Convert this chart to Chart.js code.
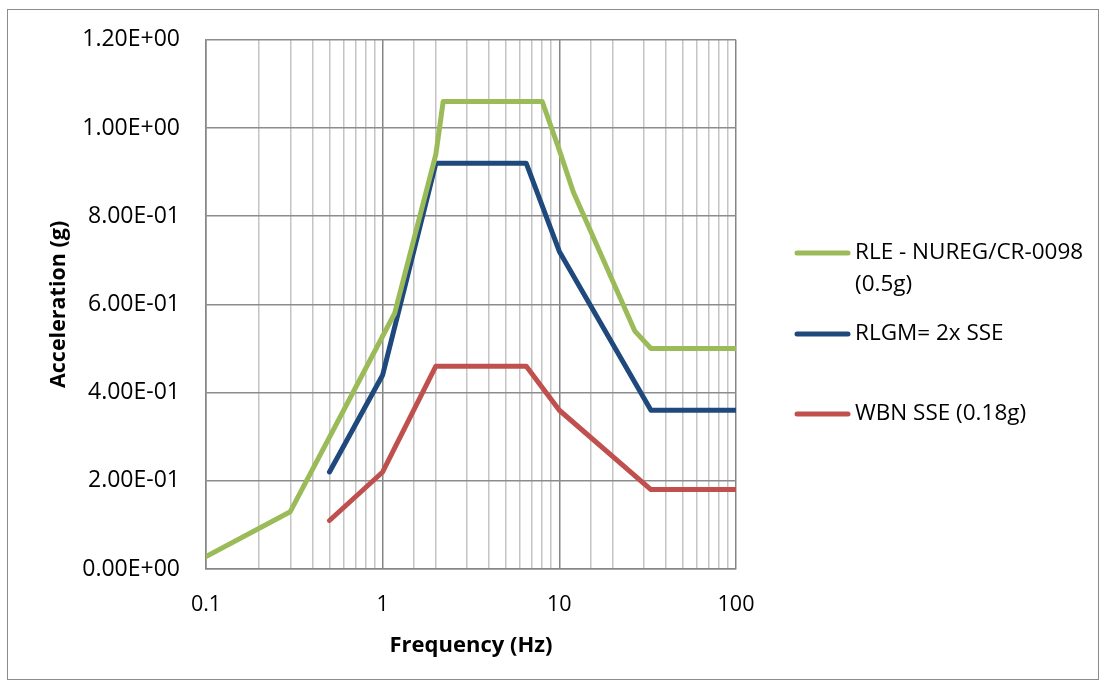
<!DOCTYPE html>
<html>
<head>
<meta charset="utf-8">
<script src="https://cdn.jsdelivr.net/npm/chart.js@4.4.1/dist/chart.umd.min.js"></script>
<style>
  html, body { margin: 0; padding: 0; background: #ffffff; }
  #wrap { position: relative; width: 1107px; height: 688px; }
  #frame { position: absolute; left: 7px; top: 9px; width: 1092px; height: 671px; border: 1px solid #8c8c8c; box-sizing: border-box; pointer-events: none; }
  canvas { position: absolute; left: 0; top: 0; }
</style>
</head>
<body>
<div id="wrap">
  <div id="frame"></div>
  <canvas id="c" width="1107" height="688"></canvas>
</div>
<script>
// ---- Data ----
const rleFreq  = [0.1, 0.3, 1.17, 2.0, 2.2, 8.0, 10.0, 12.0, 26.7, 33.0, 100.0];
const rleAcc   = [0.028, 0.13, 0.58, 0.94, 1.06, 1.06, 0.95, 0.855, 0.54, 0.50, 0.50];

const rlgmFreq = [0.5, 1.0, 2.0, 6.5, 10.0, 33.0, 100.0];
const rlgmAcc  = [0.22, 0.44, 0.92, 0.92, 0.72, 0.36, 0.36];

const sseFreq  = [0.5, 1.0, 2.0, 6.5, 10.0, 33.0, 100.0];
const sseAcc   = [0.11, 0.22, 0.46, 0.46, 0.36, 0.18, 0.18];

const seriesNames = ['RLE - NUREG/CR-0098 (0.5g)', 'RLGM= 2x SSE', 'WBN SSE (0.18g)'];
const seriesLegendLines = [['RLE - NUREG/CR-0098', '(0.5g)'], ['RLGM= 2x SSE'], ['WBN SSE (0.18g)']];
const seriesColors = ['#9BBB59', '#1F497D', '#C0504D'];

const xTickLabels = ['0.1', '1', '10', '100'];
const yTickValues = [0, 0.2, 0.4, 0.6, 0.8, 1.0, 1.2];

const xTitle = 'Frequency (Hz)';
const yTitle = 'Acceleration (g)';

function toPoints(xs, ys) { return xs.map((x, i) => ({ x: x, y: ys[i] })); }

function sci(v) {
  const s = Number(v).toExponential(2).split('e');
  const sign = s[1][0] === '-' ? '-' : '+';
  const exp = s[1].replace(/[+-]/, '').padStart(2, '0');
  return s[0] + 'E' + sign + exp;
}
function isDecade(v) {
  const l = Math.log10(v);
  return Math.abs(l - Math.round(l)) < 1e-9;
}

const FONT = 'Open Sans';

const legendPlugin = {
  id: 'customLegend',
  afterDraw(chart) {
    const ctx = chart.ctx;
    const ys = [253, 334, 414];
    ctx.save();
    ctx.font = '22.5px "' + FONT + '"';
    ctx.textBaseline = 'middle';
    ctx.textAlign = 'left';
    seriesLegendLines.forEach((lines, i) => {
      ctx.strokeStyle = seriesColors[i];
      ctx.lineWidth = 5;
      ctx.lineCap = 'round';
      ctx.beginPath();
      ctx.moveTo(797, ys[i]);
      ctx.lineTo(848, ys[i]);
      ctx.stroke();
      ctx.fillStyle = '#000000';
      lines.forEach((t, j) => ctx.fillText(t, 855, ys[i] + j * 32));
    });
    ctx.restore();
  }
};

const ds = [
  toPoints(rleFreq, rleAcc),
  toPoints(rlgmFreq, rlgmAcc),
  toPoints(sseFreq, sseAcc)
].map((pts, i) => ({
  label: seriesNames[i],
  data: pts,
  borderColor: seriesColors[i],
  backgroundColor: seriesColors[i],
  borderWidth: 5,
  pointRadius: 0,
  tension: 0,
  fill: false,
  borderCapStyle: 'round',
  borderJoinStyle: 'round'
}));

new Chart(document.getElementById('c'), {
  type: 'line',
  data: { datasets: ds },
  plugins: [legendPlugin],
  options: {
    responsive: false,
    devicePixelRatio: 1,
    animation: false,
    layout: { padding: { left: 0, top: 38, right: 371, bottom: 0 } },
    plugins: { legend: { display: false }, tooltip: { enabled: false } },
    scales: {
      x: {
        type: 'logarithmic',
        min: 0.1,
        max: 100,
        afterFit(scale) { scale.height = 119; },
        border: { color: '#868686', width: 1.5 },
        grid: {
          drawTicks: false,
          lineWidth: 1.5,
          color: (c) => (c.tick && isDecade(c.tick.value)) ? '#868686' : '#c4c4c4'
        },
        ticks: {
          autoSkip: false,
          maxRotation: 0,
          padding: 23,
          color: '#000000',
          font: { family: FONT, size: 21.5 },
          callback: (v) => {
            const lbl = xTickLabels.find(t => Math.abs(parseFloat(t) - v) < 1e-9);
            return lbl === undefined ? '' : lbl;
          }
        },
        title: {
          display: true,
          text: xTitle,
          color: '#000000',
          font: { family: FONT, size: 22, weight: 'bold' },
          padding: { top: 0, bottom: 29 }
        }
      },
      y: {
        min: 0,
        max: 1.2,
        afterFit(scale) { scale.width = 206; },
        afterBuildTicks(scale) { scale.ticks = yTickValues.map(v => ({ value: v })); },
        border: { color: '#868686', width: 1.5 },
        grid: { drawTicks: false, lineWidth: 1.5, color: '#8c8c8c' },
        ticks: {
          padding: 26,
          color: '#000000',
          font: { family: FONT, size: 23 },
          callback: (v) => sci(v)
        },
        title: {
          display: true,
          text: yTitle,
          color: '#000000',
          font: { family: FONT, size: 21.5, weight: 'bold' },
          padding: { top: 46, bottom: 0 }
        }
      }
    }
  }
});
</script>
</body>
</html>
